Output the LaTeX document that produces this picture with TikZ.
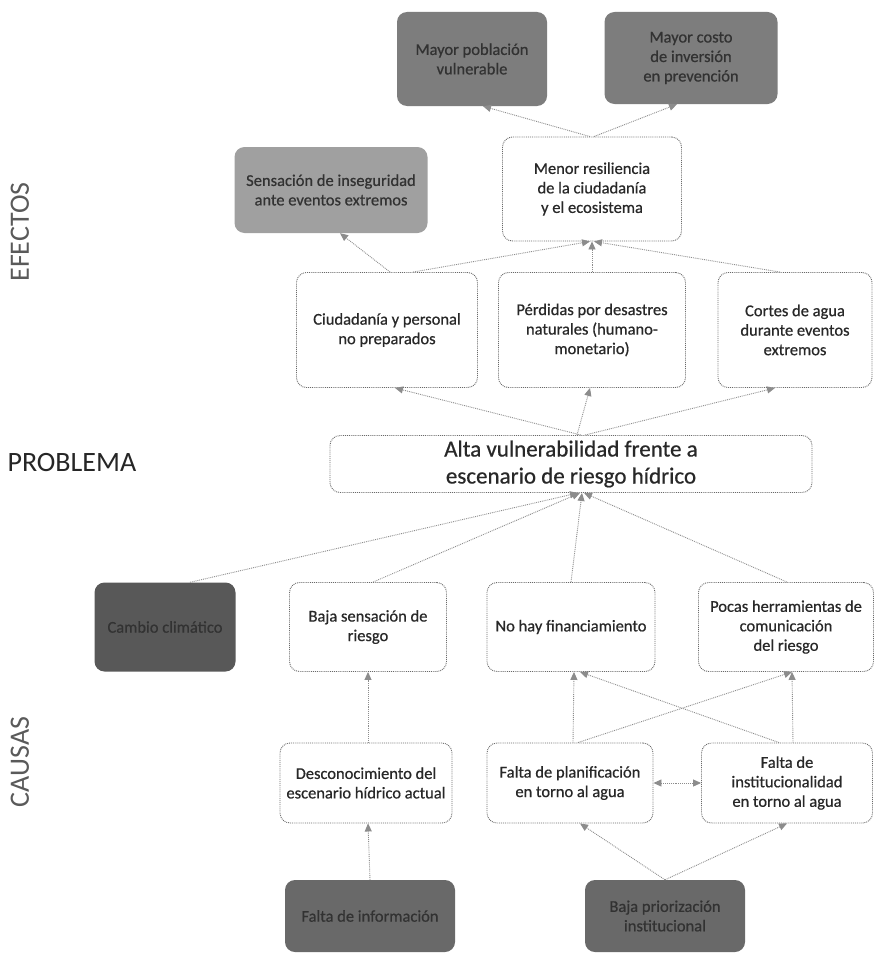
\documentclass[tikz,border=0pt]{standalone}
\usepackage{fontspec}
\setmainfont{Carlito}
\newfontfamily\boxfont{Carlito}[FakeBold=0.6]
\usetikzlibrary{arrows.meta}
\definecolor{linegray}{RGB}{140,140,140}
\definecolor{bordergray}{RGB}{105,105,105}
\definecolor{textgray}{RGB}{40,40,40}
\definecolor{darktext}{RGB}{50,50,50}
\definecolor{labelgray}{RGB}{90,90,90}
\definecolor{fillmid}{RGB}{125,125,125}
\definecolor{fillvery}{RGB}{88,88,88}
\definecolor{filldark}{RGB}{105,105,105}
\definecolor{filllight}{RGB}{160,160,160}
\begin{document}
\begin{tikzpicture}[x=1pt,y=-1pt,
  box/.style={draw=bordergray, densely dotted, line width=0.9pt, rounded corners=10pt,
    align=center, font=\boxfont\fontsize{16.5}{19.5}\selectfont, text=textgray, inner sep=1pt},
  fbox/.style={draw=none, rounded corners=10pt, align=center,
    font=\boxfont\fontsize{16.5}{19.5}\selectfont, text=darktext, inner sep=1pt},
  arr/.style={draw=linegray, densely dotted, line width=0.9pt,
    -{Triangle[length=8pt,width=7pt,fill=linegray]}},
  biarr/.style={draw=linegray, densely dotted, line width=0.9pt,
    {Triangle[length=8pt,width=7pt,fill=linegray]}-{Triangle[length=8pt,width=7pt,fill=linegray]}},
  sidelabel/.style={text=labelgray, font=\fontsize{28}{30}\selectfont}
]
\useasboundingbox[fill=white] (0,0) rectangle (874,958);

% side labels
\node[sidelabel, rotate=90] (lefec) at (20,232) {EFECTOS};
\node[sidelabel, text=black!85, anchor=west] (lprob) at (4,463) {PROBLEMA};
\node[sidelabel, rotate=90] (lcaus) at (20,762) {CAUSAS};

% top effects
\node[fbox, fill=fillmid, minimum width=150pt, minimum height=94pt] (pob) at (472,59) {Mayor población\\vulnerable};
\node[fbox, fill=fillmid, minimum width=173pt, minimum height=92pt] (costo) at (691,58) {Mayor costo\\de inversión\\en prevención};
\node[fbox, fill=filllight, minimum width=193pt, minimum height=86pt] (inseg) at (331,190) {Sensación de inseguridad\\ante eventos extremos};
\node[box, minimum width=179pt, minimum height=104pt] (resil) at (592,189) {Menor resiliencia\\de la ciudadanía\\y el ecosistema};

\node[box, minimum width=181pt, minimum height=115pt] (ciud) at (387,330) {Ciudadanía y personal\\no preparados};
\node[box, minimum width=187pt, minimum height=115pt] (perd) at (592,330) {Pérdidas por desastres\\naturales (humano-\\monetario)};
\node[box, minimum width=154pt, minimum height=115pt] (cortes) at (795,330) {Cortes de agua\\durante eventos\\extremos};

% problem
\node[box, minimum width=482pt, minimum height=57pt, font=\boxfont\fontsize{23}{27}\selectfont] (alta) at (571,464) {Alta vulnerabilidad frente a\\escenario de riesgo hídrico};

% causes row 1
\node[fbox, fill=fillvery, minimum width=141pt, minimum height=89pt] (clima) at (165,627) {Cambio climático};
\node[box, minimum width=157pt, minimum height=89pt] (baja) at (368,627) {Baja sensación de\\riesgo};
\node[box, minimum width=168pt, minimum height=89pt] (finan) at (571,627) {No hay financiamiento};
\node[box, minimum width=175pt, minimum height=89pt] (pocas) at (786,627) {Pocas herramientas de\\comunicación\\del riesgo};

% causes row 2
\node[box, minimum width=172pt, minimum height=80pt] (desc) at (366,783) {Desconocimiento del\\escenario hídrico actual};
\node[box, minimum width=166pt, minimum height=80pt] (plan) at (570,783) {Falta de planificación\\en torno al agua};
\node[box, minimum width=171pt, minimum height=80pt] (inst) at (787,783) {Falta de\\institucionalidad\\en torno al agua};

% causes row 3
\node[fbox, fill=filldark, minimum width=170pt, minimum height=72pt] (info) at (370,916) {Falta de información};
\node[fbox, fill=filldark, minimum width=160pt, minimum height=72pt] (prior) at (665,916) {Baja priorización\\institucional};

% connectors: problem -> effects
\draw[arr] ([xshift=10pt]alta.north) -- ([xshift=8pt]ciud.south);
\draw[arr] ([xshift=6pt]alta.north) -- ([xshift=-2pt]perd.south);
\draw[arr] ([xshift=14pt]alta.north) -- ([xshift=-20pt]cortes.south);

% effects -> resilience / insecurity
\draw[arr] ([xshift=3pt]ciud.north) -- ([xshift=9pt]inseg.south);
\draw[arr] ([xshift=26pt]ciud.north) -- ([xshift=-2pt]resil.south);
\draw[arr] (perd.north) -- (resil.south);
\draw[arr] ([xshift=-15pt]cortes.north) -- ([xshift=2pt]resil.south);

% resilience -> top
\draw[arr] ([xshift=-2pt]resil.north) -- ([xshift=11pt]pob.south);
\draw[arr] ([xshift=2pt]resil.north) -- ([xshift=-14pt]costo.south);

% causes -> problem
\draw[arr] ([xshift=25pt]clima.north) -- ([xshift=7pt]alta.south);
\draw[arr] ([xshift=5pt]baja.north) -- ([xshift=9pt]alta.south);
\draw[arr] (finan.north) -- ([xshift=11pt]alta.south);
\draw[arr] ([xshift=1pt]pocas.north) -- ([xshift=13pt]alta.south);

% row 2 -> row 1
\draw[arr] ([xshift=2pt]desc.north) -- (baja.south);
\draw[arr] ([xshift=3pt]plan.north) -- ([xshift=3pt]finan.south);
\draw[arr] ([xshift=8pt]plan.north) -- ([xshift=6pt]pocas.south);
\draw[arr] ([xshift=6pt]inst.north) -- ([xshift=6pt]pocas.south);
\draw[arr] ([xshift=-8pt]inst.north) -- ([xshift=9pt]finan.south);
\draw[biarr] (plan.east) -- (inst.west);

% row 3 -> row 2
\draw[arr] (info.north) -- ([xshift=2pt]desc.south);
\draw[arr] (prior.north) -- ([xshift=10pt]plan.south);
\draw[arr] (prior.north) -- ([xshift=0pt]inst.south);
\end{tikzpicture}
\end{document}
